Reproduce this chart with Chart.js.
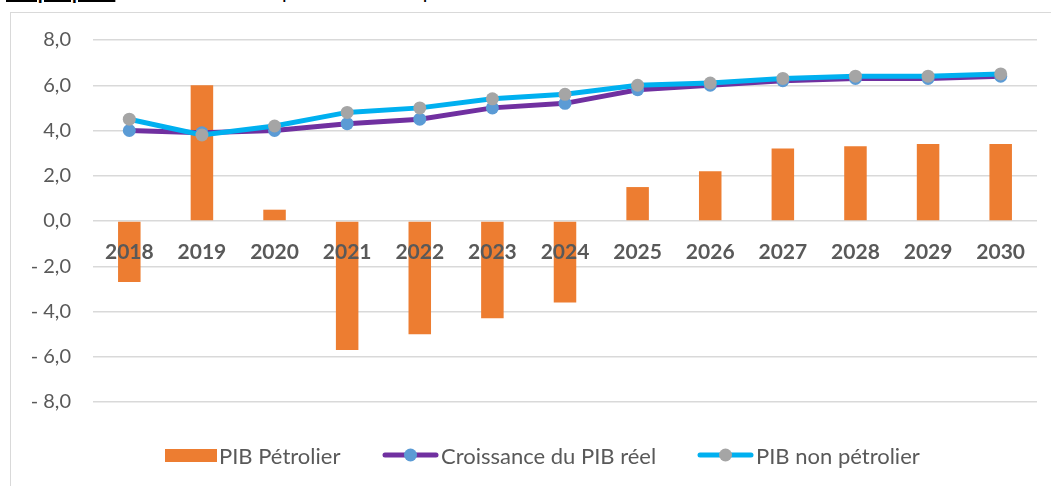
<!DOCTYPE html>
<html lang="fr">
<head>
<meta charset="utf-8">
<script src="https://cdn.jsdelivr.net/npm/chart.js@4.4.1/dist/chart.umd.min.js"></script>
<style>
  html, body { margin: 0; padding: 0; background: #fff; overflow: hidden; }
  body { width: 1051px; height: 486px; position: relative; font-family: Lato, sans-serif; }
  .caption { position: absolute; left: 6px; top: -21px; font-size: 20px; color: #000; white-space: nowrap; }
  .caption b { text-decoration: underline; }
  .frame { position: absolute; left: 10px; top: 12px; width: 1100px; height: 520px;
           border: 1.5px solid #D9D9D9; box-sizing: border-box; }
  #chart { position: absolute; left: 10px; top: 12px; }
  .legend-item { position: absolute; top: 441px; height: 28px; display: flex; align-items: center;
                 font-size: 22px; color: #595959; white-space: nowrap; }
  .legend-item canvas { margin-right: 2px; }
</style>
</head>
<body>
<div class="caption"><b>Graphique 1</b> : Évolution du PIB pétrolier et non pétrolier du scénario de base</div>
<div class="frame"></div>
<canvas id="chart" width="1041" height="474"></canvas>
<div id="legend"></div>
<script>
// --- Data ---
const years = ['2018', '2019', '2020', '2021', '2022', '2023', '2024',
               '2025', '2026', '2027', '2028', '2029', '2030'];
const pibPetrolier = [-2.7, 6.0, 0.5, -5.7, -5.0, -4.3, -3.6, 1.5, 2.2, 3.2, 3.3, 3.4, 3.4];
const croissancePib = [4.0, 3.9, 4.0, 4.3, 4.5, 5.0, 5.2, 5.8, 6.0, 6.2, 6.3, 6.3, 6.4];
const pibNonPetrolier = [4.5, 3.8, 4.2, 4.8, 5.0, 5.4, 5.6, 6.0, 6.1, 6.3, 6.4, 6.4, 6.5];
const yMin = -8;
const yMax = 8;
const yStep = 2;

const ORANGE = '#ED7D31';
const PURPLE = '#7030A0';
const BLUE_DOT = '#5B9BD5';
const CYAN = '#00B0F0';
const GREY_DOT = '#A5A5A5';
const TEXT = '#595959';
const GRID = '#D9D9D9';

// --- Legend markers (bar swatch / line with a dot) ---
function barMarker(color) {
  const c = document.createElement('canvas');
  c.width = 52; c.height = 13;
  const g = c.getContext('2d');
  g.fillStyle = color;
  g.fillRect(0, 0, 52, 13);
  return c;
}

function lineMarker(lineColor, dotColor) {
  const c = document.createElement('canvas');
  c.width = 57; c.height = 16;
  const g = c.getContext('2d');
  g.strokeStyle = lineColor;
  g.lineWidth = 5;
  g.lineCap = 'round';
  g.beginPath();
  g.moveTo(3, 8);
  g.lineTo(54, 8);
  g.stroke();
  g.fillStyle = dotColor;
  g.beginPath();
  g.arc(28.5, 8, 6.5, 0, Math.PI * 2);
  g.fill();
  return c;
}

function formatTick(v) {
  const s = Math.abs(v).toFixed(1).replace('.', ',');
  return v < 0 ? '- ' + s : s;
}

const chart = new Chart(document.getElementById('chart'), {
  data: {
    labels: years,
    datasets: [
      {
        type: 'bar',
        label: 'PIB Pétrolier',
        data: pibPetrolier,
        backgroundColor: ORANGE,
        borderWidth: 0,
        barPercentage: 0.31,
        categoryPercentage: 1,
        order: 3,
      },
      {
        type: 'line',
        label: 'Croissance du PIB réel',
        data: croissancePib,
        borderColor: PURPLE,
        borderWidth: 5,
        pointBackgroundColor: BLUE_DOT,
        pointBorderWidth: 0,
        pointRadius: 6.5,
        tension: 0,
        order: 2,
      },
      {
        type: 'line',
        label: 'PIB non pétrolier',
        data: pibNonPetrolier,
        borderColor: CYAN,
        borderWidth: 5,
        pointBackgroundColor: GREY_DOT,
        pointBorderWidth: 0,
        pointRadius: 6.5,
        tension: 0,
        order: 1,
      },
    ],
  },
  options: {
    responsive: false,
    animation: false,
    layout: { padding: { left: 0, top: 28, right: 14, bottom: 84 } },
    plugins: {
      tooltip: { enabled: false },
      legend: { display: false },
    },
    scales: {
      x: {
        position: { y: 0 },
        offset: true,
        grid: { display: false },
        border: { display: false },
        ticks: {
          z: 1, // labels sit on top of the bars, as in Excel
          color: TEXT,
          padding: 11,
          maxRotation: 0,
          font: { family: 'Lato', size: 21, weight: 'bold' },
        },
      },
      y: {
        min: yMin,
        max: yMax,
        afterFit: (scale) => {
          scale.width = 83;
          scale.paddingTop = 0;
          scale.paddingBottom = 0;
        },
        grid: { color: GRID, lineWidth: 1.5, drawTicks: false },
        border: { display: false },
        ticks: {
          stepSize: yStep,
          padding: 22,
          color: TEXT,
          font: { family: 'Lato', size: 20 },
          callback: formatTick,
        },
      },
    },
  },
});

// --- HTML legend, laid out like the Excel one ---
const legendMarkers = [barMarker(ORANGE), lineMarker(PURPLE, BLUE_DOT), lineMarker(CYAN, GREY_DOT)];
const legendLeft = [165, 382, 697];
const legend = document.getElementById('legend');
chart.data.datasets.forEach((ds, i) => {
  const item = document.createElement('div');
  item.className = 'legend-item';
  item.style.left = legendLeft[i] + 'px';
  item.appendChild(legendMarkers[i]);
  const span = document.createElement('span');
  span.textContent = ds.label;
  item.appendChild(span);
  legend.appendChild(item);
});
</script>
</body>
</html>
